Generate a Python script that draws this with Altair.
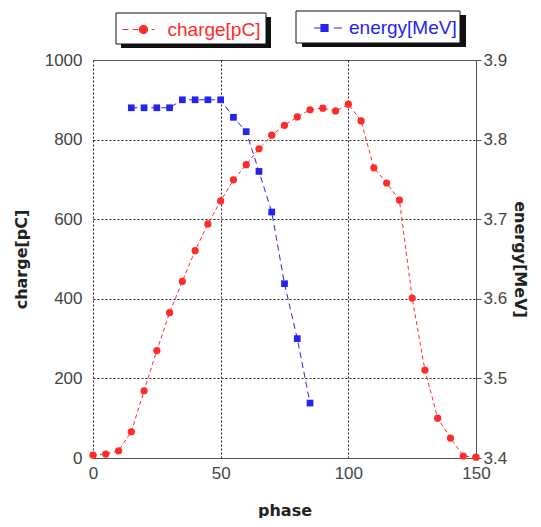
import altair as alt
import pandas as pd

# ---- data ----
phase_charge = [0, 5, 10, 15, 20, 25, 30, 35, 40, 45, 50, 55, 60, 65, 70, 75,
                80, 85, 90, 95, 100, 105, 110, 115, 120, 125, 130, 135, 140, 145, 150]
charge_pc = [7, 10, 18, 66, 169, 270, 365, 444, 521, 588, 646, 699, 737, 777, 811, 836,
             857, 875, 879, 872, 889, 847, 729, 691, 648, 402, 221, 100, 50, 5, 2]
phase_energy = [15, 20, 25, 30, 35, 40, 45, 50, 55, 60, 65, 70, 75, 80, 85]
energy_mev = [3.84, 3.84, 3.84, 3.84, 3.85, 3.85, 3.85, 3.85, 3.828, 3.81, 3.76,
              3.709, 3.619, 3.55, 3.469]
x_ticks = [0, 50, 100, 150]
charge_ticks = [0, 200, 400, 600, 800, 1000]
energy_ticks = [3.4, 3.5, 3.6, 3.7, 3.8, 3.9]
series_names = ["charge[pC]", "energy[MeV]"]

RED = "#ff2a2a"
BLUE = "#2424ee"
FONT = "Liberation Sans"
TFONT = "DejaVu Sans"
GRID = "#222222"
AXC = "#555555"

df_c = pd.DataFrame({"phase": phase_charge, "charge": charge_pc, "series": series_names[0]})
df_e = pd.DataFrame({"phase": phase_energy, "energy": energy_mev, "series": series_names[1]})
df_one = pd.DataFrame({"k": [0]})

# legend symbols (unit = 10 px): dashed line with marker
PATH1 = ("M-1,0H-0.4M0,0H0.6M1.9,0H2.2"
         "M1.5,0A0.4,0.4,0,1,1,0.7,0A0.4,0.4,0,1,1,1.5,0Z")
PATH2 = ("M0.1,0H1.0M2.1,0H2.9"
         "M0.8,-0.35H1.5V0.35H0.8Z")


def legend_frame(x0, x1, y0, y1, dx, dy):
    """white framed box with a dark drop shadow behind a legend"""
    shadow = alt.Chart(df_one).mark_rect(color="#111111").encode(
        x=alt.value(x0 + dx), x2=alt.value(x1 + dx),
        y=alt.value(y0 + dy), y2=alt.value(y1 + dy))
    box = alt.Chart(df_one).mark_rect(fill="white", stroke="#111111", strokeWidth=1).encode(
        x=alt.value(x0), x2=alt.value(x1), y=alt.value(y0), y2=alt.value(y1))
    return [shadow, box]


x_main = alt.X("phase:Q", scale=alt.Scale(domain=[0, 150], nice=False, zero=False),
               axis=alt.Axis(values=x_ticks, title="phase", ticks=False, grid=True,
                             gridColor=GRID, gridDash=[2, 2], gridWidth=1, labelFlush=False,
                             domainColor=AXC, labelPadding=7, titlePadding=21))
x_top = alt.X("phase:Q", scale=alt.Scale(domain=[0, 150], nice=False, zero=False),
              axis=alt.Axis(orient="top", labels=False, ticks=False, grid=False,
                            domain=True, domainColor=AXC, title=None))

y_c = alt.Y("charge:Q", scale=alt.Scale(domain=[0, 1000], nice=False),
            axis=alt.Axis(values=charge_ticks, format="d", title="charge[pC]", orient="left",
                          ticks=False, domain=False, grid=True, gridColor=GRID,
                          gridDash=[2, 2], gridWidth=1, labelPadding=11, titlePadding=15))
y_e = alt.Y("energy:Q", scale=alt.Scale(domain=[3.4, 3.9], nice=False, zero=False),
            axis=alt.Axis(values=energy_ticks, format=".1f", title="energy[MeV]",
                          orient="right", ticks=True, tickSize=5, tickColor=AXC,
                          domain=True, domainColor=AXC, grid=False,
                          labelPadding=2, titlePadding=5))

frames = legend_frame(23, 173, -47, -16, 5, 4) + legend_frame(203, 367, -49, -17, 6, 4)

charge_line = alt.Chart(df_c).mark_line(color=RED, strokeDash=[4, 3], strokeWidth=1).encode(
    x=x_main, y=y_c)
charge_pts = alt.Chart(df_c).mark_point(filled=True, shape="circle", size=52, opacity=1).encode(
    x=x_main, y=y_c,
    color=alt.Color("series:N", scale=alt.Scale(domain=[series_names[0]], range=[RED]),
                    legend=alt.Legend(title=None, orient="none", legendX=23, legendY=-47,
                                      symbolType=PATH1, symbolSize=400,
                                      symbolStrokeColor=RED, symbolStrokeWidth=1.2,
                                      symbolFillColor=RED, symbolOpacity=1,
                                      labelColor=RED, labelFontSize=19, labelFont=FONT,
                                      labelOffset=24, padding=5.5)))

energy_line = alt.Chart(df_e).mark_line(color=BLUE, strokeDash=[6, 4], strokeWidth=1).encode(
    x=x_top, y=y_e)
energy_pts = alt.Chart(df_e).mark_point(filled=True, shape="square", size=45, opacity=1).encode(
    x=x_top, y=y_e,
    color=alt.Color("series:N", scale=alt.Scale(domain=[series_names[1]], range=[BLUE]),
                    legend=alt.Legend(title=None, orient="none", legendX=203, legendY=-49,
                                      symbolType=PATH2, symbolSize=400,
                                      symbolStrokeColor=BLUE, symbolStrokeWidth=1.2,
                                      symbolFillColor=BLUE, symbolOpacity=1,
                                      labelColor=BLUE, labelFontSize=19, labelFont=FONT,
                                      labelOffset=25, padding=6)))

charge_layer = alt.layer(charge_line, charge_pts)
energy_layer = alt.layer(energy_line, energy_pts)

chart = alt.layer(*frames, charge_layer, energy_layer).resolve_scale(
    x="independent", y="independent", color="independent"
).properties(
    width=383, height=398,
    padding={"left": 5, "top": 2, "right": 4, "bottom": 0},
).configure_axis(
    labelFont=FONT, titleFont=TFONT, labelFontSize=17, labelColor="#444444",
    titleFontSize=16, titleFontWeight="bold", titleColor="#222222",
).configure_view(strokeWidth=0)

chart.save("out.html", embed_options={"renderer": "svg", "actions": False})
